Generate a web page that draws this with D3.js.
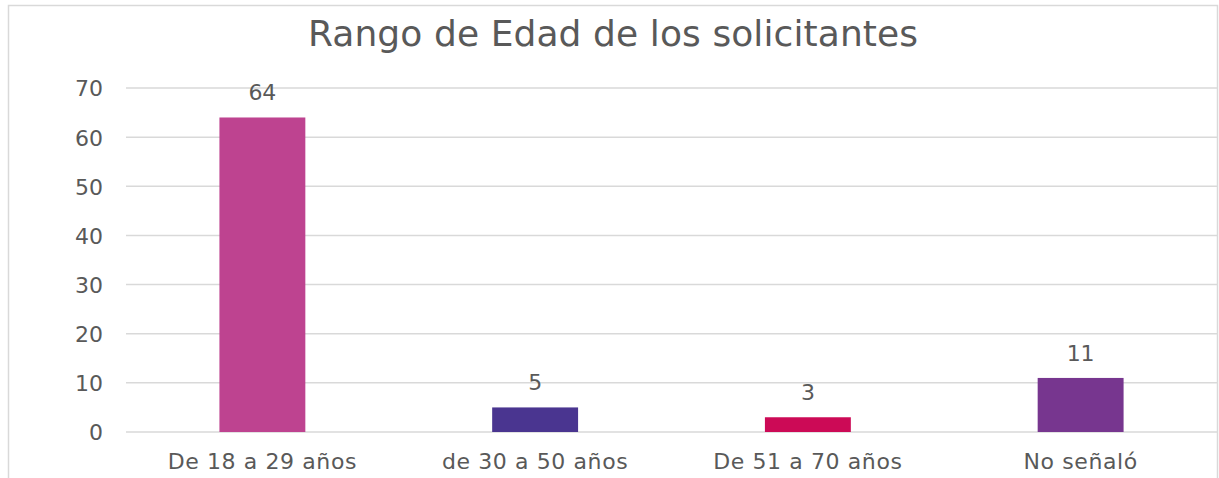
<!DOCTYPE html>
<html>
<head>
<meta charset="utf-8">
<script src="https://cdn.jsdelivr.net/npm/d3@7"></script>
<style>
  body { margin: 0; background: #fff; }
  text { font-family: "Century Gothic", "DejaVu Sans", sans-serif; fill: #595959; }
</style>
</head>
<body>
<div id="chart"></div>
<script>
var categories = ["De 18 a 29 años", "de 30 a 50 años", "De 51 a 70 años", "No señaló"];
var values = [64, 5, 3, 11];
var colors = ["#BE4390", "#4A3590", "#CC0A56", "#77368F"];
var yTicks = [0, 10, 20, 30, 40, 50, 60, 70];
var title = "Rango de Edad de los solicitantes";

var width = 1219, height = 478;
var plotLeft = 126, plotRight = 1217, plotTop = 88, plotBottom = 432;

var svg = d3.select("#chart").append("svg")
	.attr("width", width)
	.attr("height", height);

// chart frame
svg.append("rect")
	.attr("x", 8.5).attr("y", 5.5)
	.attr("width", 1209).attr("height", 490)
	.attr("fill", "none")
	.attr("stroke", "#d9d9d9")
	.attr("stroke-width", 1.5);

var x = d3.scaleBand()
	.domain(categories)
	.range([plotLeft, plotRight])
	.paddingInner(0.685)
	.paddingOuter(0.3425);

var y = d3.scaleLinear()
	.domain([0, 70])
	.range([plotBottom, plotTop]);

// gridlines
svg.append("g")
	.selectAll("line")
	.data(yTicks)
	.join("line")
	.attr("x1", plotLeft).attr("x2", plotRight)
	.attr("y1", function (d) { return y(d); })
	.attr("y2", function (d) { return y(d); })
	.attr("stroke", "#d9d9d9")
	.attr("stroke-width", 1.5);

// y axis labels
var yAxis = svg.append("g")
	.attr("transform", "translate(" + (plotLeft - 23) + ",0)")
	.call(d3.axisLeft(y).tickValues(yTicks).tickSize(0).tickPadding(0));
yAxis.select(".domain").remove();
yAxis.selectAll("text")
	.attr("fill", null)
	.style("font-size", "22px")
	.attr("dy", "0.36em");

// x axis labels
var xAxis = svg.append("g")
	.attr("transform", "translate(0," + plotBottom + ")")
	.call(d3.axisBottom(x).tickSize(0).tickPadding(21));
xAxis.select(".domain").remove();
xAxis.selectAll("text")
	.attr("fill", null)
	.style("font-size", "22px")
	.style("letter-spacing", "0.6px");

// bars
svg.append("g")
	.selectAll("rect")
	.data(values)
	.join("rect")
	.attr("x", function (d, i) { return x(categories[i]); })
	.attr("y", function (d) { return y(d); })
	.attr("width", x.bandwidth())
	.attr("height", function (d) { return y(0) - y(d); })
	.attr("fill", function (d, i) { return colors[i]; });

// value labels
svg.append("g")
	.selectAll("text")
	.data(values)
	.join("text")
	.attr("x", function (d, i) { return x(categories[i]) + x.bandwidth() / 2; })
	.attr("y", function (d) { return y(d) - 17; })
	.attr("text-anchor", "middle")
	.style("font-size", "22px")
	.text(function (d) { return d; });

// title
svg.append("text")
	.attr("x", 613)
	.attr("y", 46)
	.attr("text-anchor", "middle")
	.attr("textLength", 610)
	.style("font-size", "36px")
	.text(title);
</script>
</body>
</html>
